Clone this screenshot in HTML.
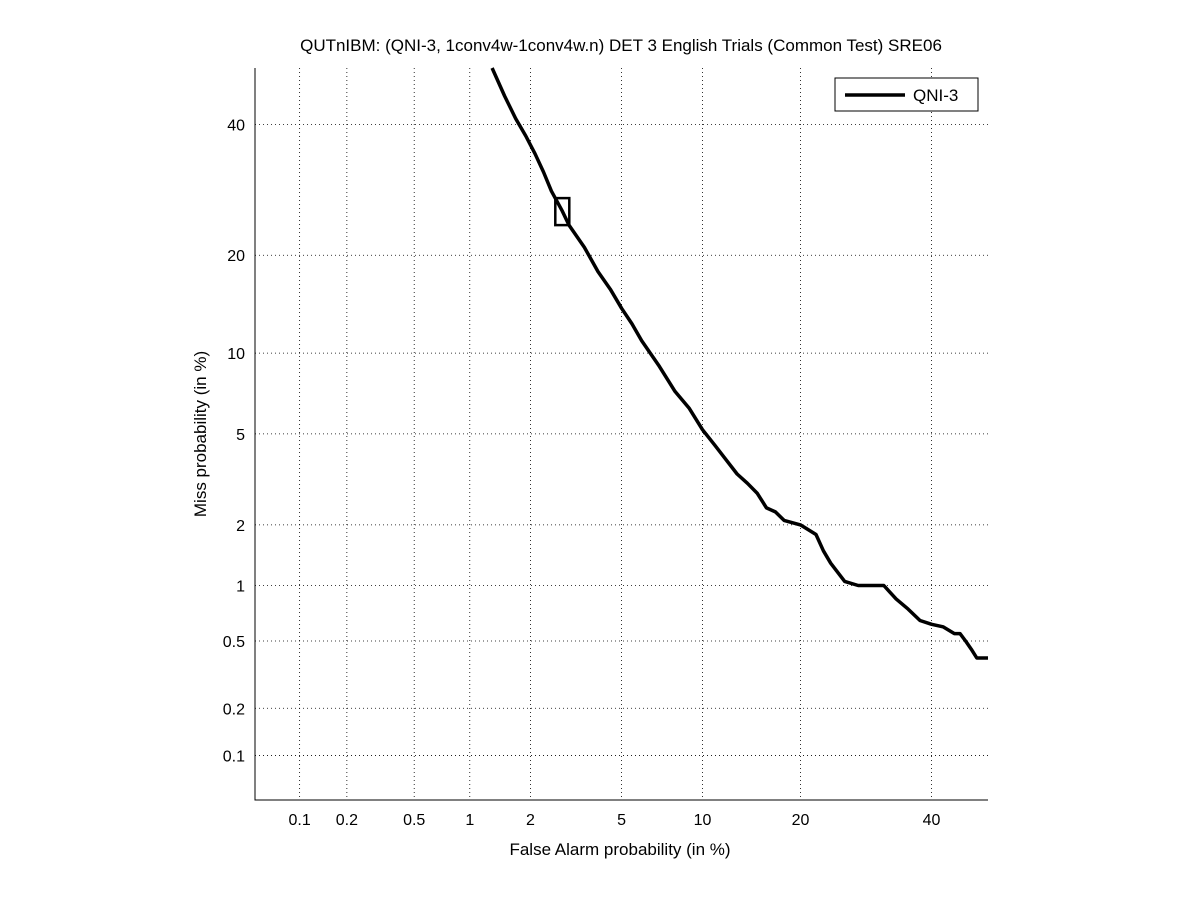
<!DOCTYPE html>
<html><head><meta charset="utf-8"><style>
body{margin:0;background:#fff;}
svg{display:block;font-family:"Liberation Sans",sans-serif;}
</style></head><body>
<svg id="chart" width="1201" height="900" viewBox="0 0 1201 900">
<rect x="0" y="0" width="1201" height="900" fill="#fff"/>
<text x="621" y="51" font-size="17" text-anchor="middle">QUTnIBM: (QNI-3, 1conv4w-1conv4w.n) DET 3 English Trials (Common Test) SRE06</text>
<g id="grid"></g>
<path d="M255,68 V800 H988" fill="none" stroke="#000" stroke-width="1"/>
<g id="ticks"></g>
<g id="series"></g>
<text x="620" y="855" font-size="17" text-anchor="middle">False Alarm probability (in %)</text>
<text transform="translate(206,434) rotate(-90)" font-size="17" text-anchor="middle">Miss probability (in %)</text>
<g>
<rect x="835" y="78" width="143" height="33" fill="#fff" stroke="#000"/>
<line x1="845" y1="95" x2="905" y2="95" stroke="#000" stroke-width="3.5"/>
<text x="913" y="101" font-size="17">QNI-3</text>
</g>
</svg>
<script>
const xTicks=[0.1,0.2,0.5,1,2,5,10,20,40];
const yTicks=[0.1,0.2,0.5,1,2,5,10,20,40];
const xTickLabels=["0.1","0.2","0.5","1","2","5","10","20","40"];
const yTickLabels=["0.1","0.2","0.5","1","2","5","10","20","40"];
const faValues=[1.3,1.5,1.7,1.9,2.1,2.3,2.5,2.8,3.0,3.5,4.0,4.5,5.0,5.5,6.0,7.0,8.0,9.0,10,11,12,13,14,15,16,17,18,20,22,23,24,26,28,30,32,34,36,38,40,42,44,45,46,47,48,50];
const missValues=[50,45,41,38,35,32,29,26,24,21,18,16,14,12.5,11,9,7.3,6.3,5.2,4.5,3.9,3.4,3.1,2.8,2.4,2.3,2.1,2.0,1.8,1.5,1.3,1.05,1.0,1.0,1.0,0.85,0.75,0.65,0.62,0.6,0.55,0.55,0.5,0.45,0.4,0.4];
const minDcfPoint=[2.8,26];

function probit(p){
 const a=[-39.69683028665376,220.9460984245205,-275.9285104469687,138.3577518672690,-30.66479806614716,2.506628277459239];
 const b=[-54.47609879822406,161.5858368580409,-155.6989798598866,66.80131188771972,-13.28068155288572];
 const c=[-0.007784894002430293,-0.3223964580411365,-2.400758277161838,-2.549732539343734,4.374664141464968,2.938163982698783];
 const d=[0.007784695709041462,0.3224671290700398,2.445134137142996,3.754408661907416];
 const pl=0.02425;let q,r;
 if(p<pl){q=Math.sqrt(-2*Math.log(p));return (((((c[0]*q+c[1])*q+c[2])*q+c[3])*q+c[4])*q+c[5])/((((d[0]*q+d[1])*q+d[2])*q+d[3])*q+1);}
 if(p<=1-pl){q=p-0.5;r=q*q;return (((((a[0]*r+a[1])*r+a[2])*r+a[3])*r+a[4])*r+a[5])*q/(((((b[0]*r+b[1])*r+b[2])*r+b[3])*r+b[4])*r+1);}
 q=Math.sqrt(-2*Math.log(1-p));return -(((((c[0]*q+c[1])*q+c[2])*q+c[3])*q+c[4])*q+c[5])/((((d[0]*q+d[1])*q+d[2])*q+d[3])*q+1);
}
const lo=probit(0.0005),hi=0;
function xs(pct){return 255+(probit(pct/100)-lo)/(hi-lo)*733;}
function ys(pct){return 800-(probit(pct/100)-lo)/(hi-lo)*732;}
const NS="http://www.w3.org/2000/svg";
function mk(t,at,parent){const e=document.createElementNS(NS,t);for(const k in at)e.setAttribute(k,at[k]);parent.appendChild(e);return e;}
const grid=document.getElementById('grid'),ticks=document.getElementById('ticks'),series=document.getElementById('series');
xTicks.forEach((v,i)=>{const x=xs(v);
 const g=mk('line',{x1:x,y1:68,x2:x,y2:800,stroke:'#000','stroke-width':0.8,'stroke-dasharray':'1,3'},grid);
 
 
 const t=mk('text',{x:x,y:825,'font-size':16,'text-anchor':'middle'},ticks);t.textContent=xTickLabels[i];
 
 
});
yTicks.forEach((v,i)=>{const y=ys(v);
 const g=mk('line',{x1:255,y1:y,x2:988,y2:y,stroke:'#000','stroke-width':0.8,'stroke-dasharray':'1,3'},grid);
 
 
 const t=mk('text',{x:245,y:y+6,'font-size':16,'text-anchor':'end'},ticks);t.textContent=yTickLabels[i];
 
 
});
const pts=faValues.map((f,i)=>xs(f).toFixed(1)+','+ys(missValues[i]).toFixed(1)).join(' ');
const pl=mk('polyline',{points:pts,fill:'none',stroke:'#000','stroke-width':3.5,'stroke-linejoin':'round'},series);


const bx=xs(minDcfPoint[0]),by=ys(minDcfPoint[1]);
const r=mk('rect',{x:bx-7,y:by-13,width:14,height:27,fill:'none',stroke:'#000','stroke-width':2.5},series);


</script>
</body></html>
